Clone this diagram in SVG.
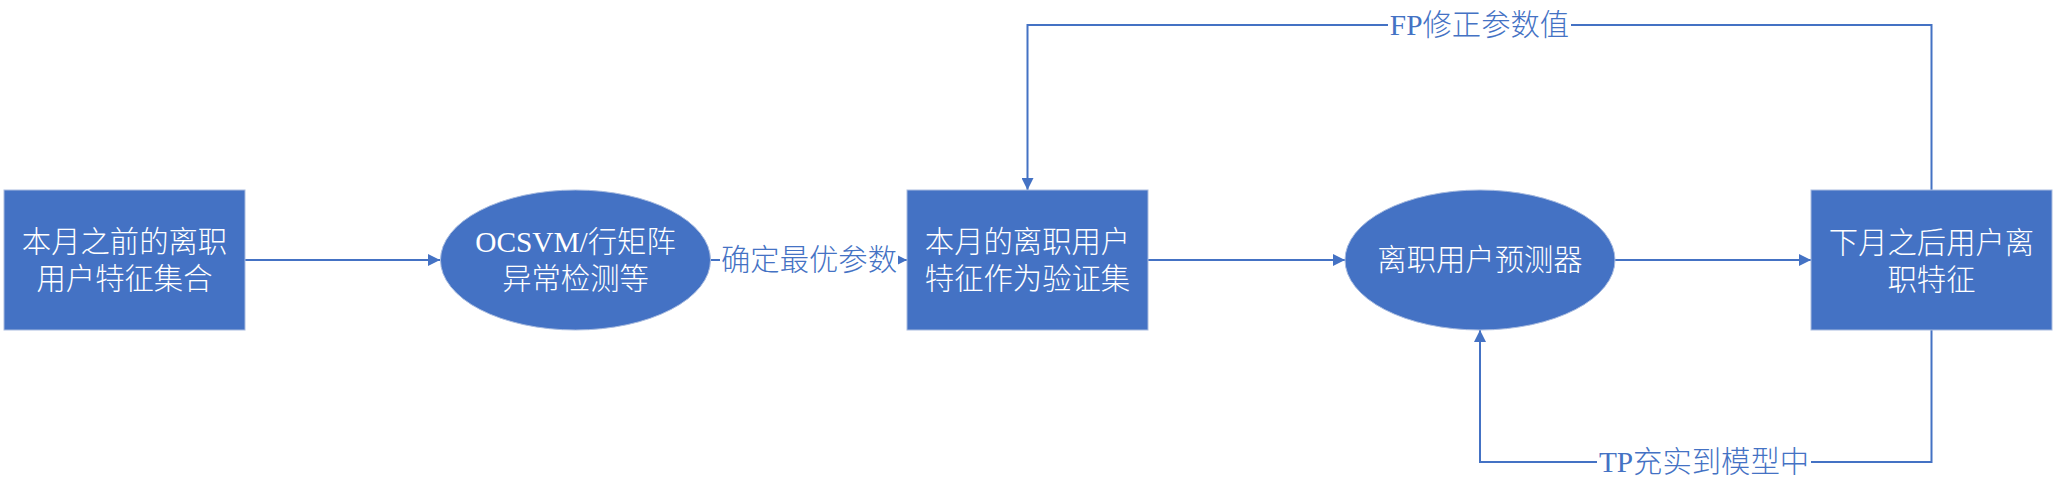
<svg xmlns="http://www.w3.org/2000/svg" width="2056" height="496" viewBox="0 0 2056 496">
<style>
.node{fill:#4472C4;stroke:#A9BCE0;stroke-width:1}
.nt{fill:#FFFFFF;font-family:"Liberation Serif","Noto Sans CJK SC",serif;font-size:29.33px;font-weight:200;text-anchor:middle;dominant-baseline:central}
.lt{fill:#4472C4;font-family:"Liberation Serif","Noto Sans CJK SC",serif;font-size:29.33px;font-weight:200;text-anchor:middle;dominant-baseline:central}
.edge{fill:none;stroke:#4472C4;stroke-width:2}
.bg{fill:#FFFFFF}
</style>
<defs>
<marker id="arr" viewBox="0 0 12 12" refX="12" refY="6" markerWidth="12" markerHeight="12" markerUnits="userSpaceOnUse" orient="auto">
<path d="M0,0 L12,6 L0,12 Z" fill="#4472C4"/>
</marker>
</defs>
<rect width="2056" height="496" fill="#FFFFFF"/>
<g id="connectors">
<line class="edge" x1="245" y1="260" x2="440" y2="260" marker-end="url(#arr)"/>
<line class="edge" x1="710" y1="260" x2="907" y2="260" marker-end="url(#arr)"/>
<rect class="bg" x="720" y="244" width="178" height="32"/>
<text class="lt" x="809" y="260">确定最优参数</text>
<line class="edge" x1="1148" y1="260" x2="1345" y2="260" marker-end="url(#arr)"/>
<line class="edge" x1="1615" y1="260" x2="1811" y2="260" marker-end="url(#arr)"/>
<polyline class="edge" points="1931.5,190 1931.5,25 1027.5,25 1027.5,190" marker-end="url(#arr)"/>
<rect class="bg" x="1388" y="9" width="183" height="32"/>
<text class="lt" x="1479.5" y="25">FP修正参数值</text>
<polyline class="edge" points="1931.5,330 1931.5,462 1480,462 1480,330" marker-end="url(#arr)"/>
<rect class="bg" x="1597" y="446" width="214" height="32"/>
<text class="lt" x="1704" y="462">TP充实到模型中</text>
</g>
<g id="node1">
<rect class="node" x="4" y="190" width="241" height="140"/>
<text class="nt" x="124.5" y="242">本月之前的离职</text>
<text class="nt" x="124.5" y="279">用户特征集合</text>
</g>
<g id="node2">
<ellipse class="node" cx="575.5" cy="260" rx="135" ry="70"/>
<text class="nt" x="575.5" y="242">OCSVM/行矩阵</text>
<text class="nt" x="575.5" y="279">异常检测等</text>
</g>
<g id="node3">
<rect class="node" x="907" y="190" width="241" height="140"/>
<text class="nt" x="1027.5" y="242">本月的离职用户</text>
<text class="nt" x="1027.5" y="279">特征作为验证集</text>
</g>
<g id="node4">
<ellipse class="node" cx="1480" cy="260" rx="135" ry="70"/>
<text class="nt" x="1480" y="260">离职用户预测器</text>
</g>
<g id="node5">
<rect class="node" x="1811" y="190" width="241" height="140"/>
<text class="nt" x="1931.5" y="243">下月之后用户离</text>
<text class="nt" x="1931.5" y="280">职特征</text>
</g>
</svg>
